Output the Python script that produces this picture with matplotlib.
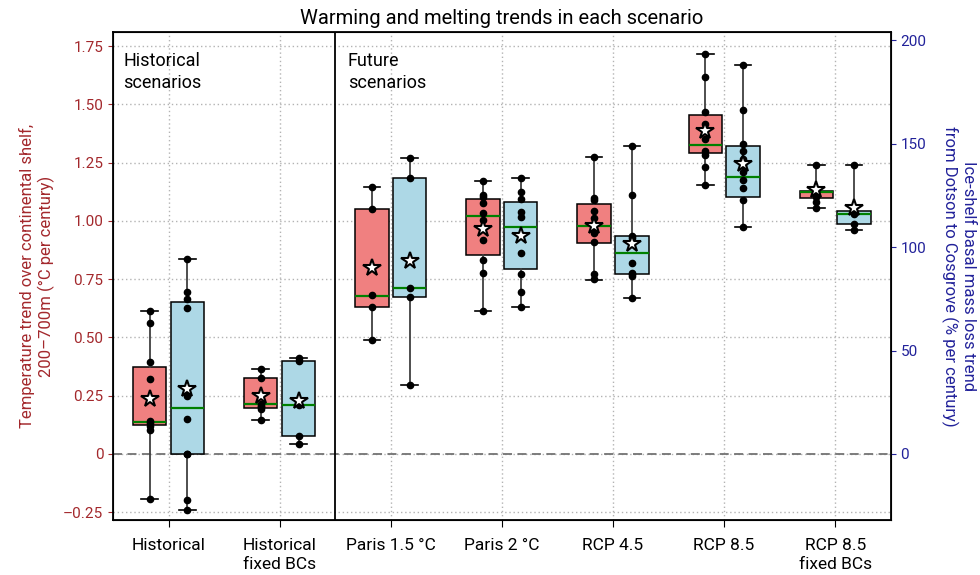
import matplotlib
matplotlib.use("Agg")
import matplotlib.pyplot as plt
import numpy as np

plt.rcParams['font.family'] = ['Roboto', 'DejaVu Sans']

scenarios = ["Historical", "Historical\nfixed BCs", "Paris 1.5 °C", "Paris 2 °C",
             "RCP 4.5", "RCP 8.5", "RCP 8.5\nfixed BCs"]

# temperature trend (°C per century), one list of ensemble members per scenario
temp_points = [
    [0.614, 0.564, 0.393, 0.321, 0.140, 0.131, 0.121, 0.101, -0.191],
    [0.366, 0.324, 0.213, 0.205, 0.201, 0.194, 0.147],
    [1.144, 1.049, 0.681, 0.632, 0.489],
    [1.170, 1.110, 1.103, 1.077, 1.034, 1.003, 0.917, 0.832, 0.775, 0.614],
    [1.274, 1.096, 1.089, 1.042, 1.013, 0.967, 0.946, 0.910, 0.772, 0.749],
    [1.714, 1.615, 1.467, 1.417, 1.394, 1.353, 1.300, 1.283, 1.231, 1.153],
    [1.239, 1.127, 1.103, 1.082, 1.057],
]
temp_q1 = [0.124, 0.199, 0.632, 0.852, 0.906, 1.289, 1.099]
temp_med = [0.137, 0.213, 0.679, 1.019, 0.979, 1.326, 1.125]
temp_q3 = [0.374, 0.324, 1.049, 1.094, 1.074, 1.454, 1.127]
temp_lo = [-0.191, 0.147, 0.489, 0.614, 0.746, 1.153, 1.057]
temp_hi = [0.614, 0.366, 1.144, 1.170, 1.274, 1.714, 1.239]
temp_mean = [0.234, 0.250, 0.799, 0.963, 0.977, 1.384, 1.132]

# ice-shelf basal mass loss trend (% per century)
melt_points = [
    [94.2, 78.4, 74.7, 70.4, 28.2, 16.8, 0.0, 0.0, -22.2, -27.1],
    [46.4, 44.9, 23.5, 8.7, 5.0],
    [143.2, 133.2, 80.3, 75.8, 33.5],
    [133.3, 126.7, 123.5, 117.2, 114.5, 97.2, 86.8, 78.1, 71.2],
    [148.8, 125.1, 105.3, 104.2, 92.4, 87.6, 87.0, 86.1, 75.5],
    [187.9, 166.2, 149.8, 146.5, 142.8, 139.8, 136.1, 132.4, 128.4, 122.7, 109.5],
    [139.6, 116.6, 115.8, 111.4, 108.2],
]
melt_q1 = [0.0, 8.7, 75.8, 89.4, 87.0, 124.3, 111.4]
melt_med = [22.4, 23.8, 80.3, 109.8, 97.1, 134.0, 115.8]
melt_q3 = [73.6, 44.8, 133.2, 121.9, 105.3, 148.9, 117.4]
melt_lo = [-27.1, 5.0, 33.5, 71.2, 75.5, 109.5, 108.2]
melt_hi = [94.2, 46.4, 143.2, 133.3, 148.8, 187.9, 139.6]
melt_mean = [31.3, 25.6, 93.4, 105.5, 101.3, 140.4, 118.7]

temp_ticks = [-0.25, 0, 0.25, 0.5, 0.75, 1.0, 1.25, 1.5, 1.75]
temp_ticklabels = ["–0.25", "0", "0.25", "0.50", "0.75", "1.00", "1.25", "1.50", "1.75"]
melt_ticks = [0, 50, 100, 150, 200]

RED = "#a3282c"
NAVY = "#22229a"


def make_stats(q1, med, q3, lo, hi, mean):
    return [dict(q1=a, med=b, q3=c, whislo=d, whishi=e, mean=f, fliers=[])
            for a, b, c, d, e, f in zip(q1, med, q3, lo, hi, mean)]


def draw_group(ax, stats, points, pos, face):
    ax.bxp(stats, positions=pos, widths=0.3, patch_artist=True, showmeans=True,
           boxprops=dict(facecolor=face, edgecolor="black", linewidth=1.1),
           medianprops=dict(color="green", linewidth=1.6),
           whiskerprops=dict(color="0.25", linewidth=1.3),
           capprops=dict(color="black", linewidth=1.2),
           meanprops=dict(marker="*", markersize=13, markerfacecolor="white",
                          markeredgecolor="black", markeredgewidth=1.5, zorder=6),
           manage_ticks=False)
    for p, vals in zip(pos, points):
        ax.plot(np.full(len(vals), p), vals, "o", color="black", ms=4.5, zorder=5)


fig = plt.figure(figsize=(9.8, 5.75), dpi=100)
ax = fig.add_axes([0.1153, 0.0957, 0.7936, 0.8486])
ax2 = ax.twinx()

x = np.arange(len(scenarios))
k = 112.7
ylim = (-0.283, 1.81)
ax.set_ylim(*ylim)
ax2.set_ylim(ylim[0] * k, ylim[1] * k)
ax.set_xlim(-0.5, 6.5)

ax.grid(True, linestyle=(0, (1, 2)), color="0.7", linewidth=1)
ax.set_axisbelow(True)
ax.axhline(0, color="0.45", linestyle="--", linewidth=1.3, dashes=(5, 3), zorder=1)
ax.axvline(1.5, color="black", linewidth=1.3)

draw_group(ax, make_stats(temp_q1, temp_med, temp_q3, temp_lo, temp_hi, temp_mean),
           temp_points, x - 0.17, "lightcoral")
draw_group(ax2, make_stats(melt_q1, melt_med, melt_q3, melt_lo, melt_hi, melt_mean),
           melt_points, x + 0.17, "lightblue")

ax.set_xticks(x)
ax.set_xticklabels(scenarios, fontsize=12.5, linespacing=1.35)
ax.set_yticks(temp_ticks)
ax.set_yticklabels(temp_ticklabels)
ax.tick_params(axis="y", colors=RED, labelsize=11)
ax.tick_params(axis="x", length=5, pad=8)
ax2.set_yticks(melt_ticks)
ax2.tick_params(axis="y", colors=NAVY, labelsize=11)

ax.set_ylabel("Temperature trend over continental shelf,\n200–700m (°C per century)",
              color=RED, fontsize=12, labelpad=6)
ax2.set_ylabel("Ice-shelf basal mass loss trend\nfrom Dotson to Cosgrove (% per century)",
               color=NAVY, fontsize=12, rotation=270, labelpad=36)
ax.set_title("Warming and melting trends in each scenario", fontsize=14.5, pad=6)

ax.text(0.013, 0.96, "Historical\nscenarios", transform=ax.transAxes,
        fontsize=13, va="top", ha="left", linespacing=1.3)
ax.text(0.302, 0.96, "Future\nscenarios", transform=ax.transAxes,
        fontsize=13, va="top", ha="left", linespacing=1.3)

for spine in ax2.spines.values():
    spine.set_linewidth(1.3)

fig.savefig("out.png", dpi=100)
plt.close(fig)
